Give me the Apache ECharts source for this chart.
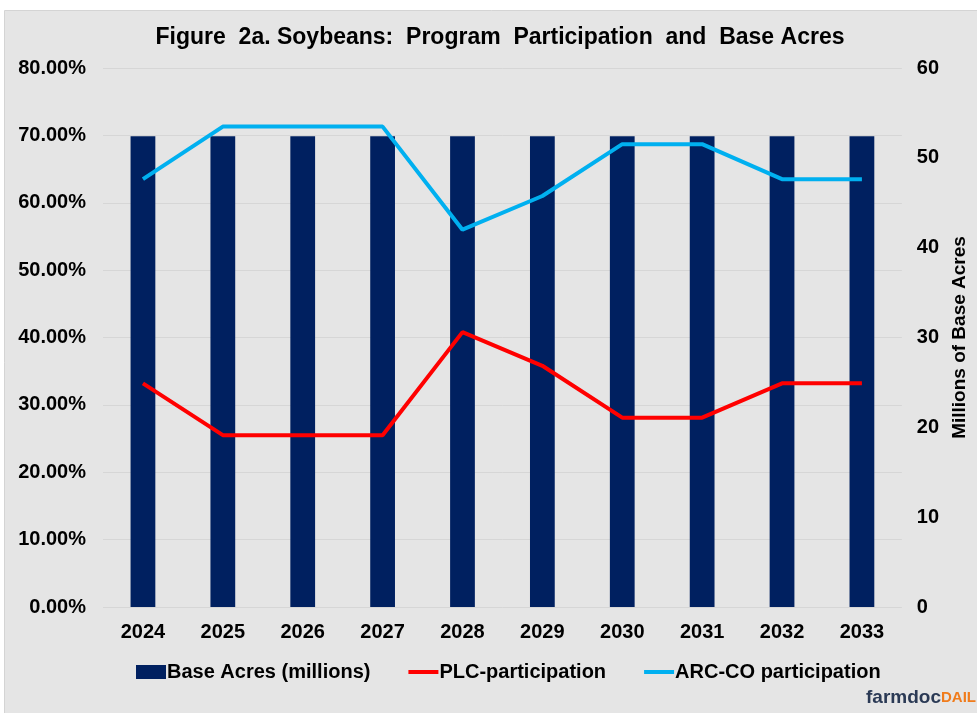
<!DOCTYPE html>
<html>
<head>
<meta charset="utf-8">
<script src="https://cdn.jsdelivr.net/npm/echarts@6/dist/echarts.min.js"></script>
<style>
  html, body { margin: 0; padding: 0; background: #fff; }
  #chart { width: 977px; height: 713px; }
</style>
</head>
<body>
<div id="chart"></div>
<script>
// data
var years = ['2024', '2025', '2026', '2027', '2028', '2029', '2030', '2031', '2032', '2033'];
var baseAcres = [52.4, 52.4, 52.4, 52.4, 52.4, 52.4, 52.4, 52.4, 52.4, 52.4];
var plcPart = [33.2, 25.5, 25.5, 25.5, 40.8, 35.8, 28.1, 28.1, 33.2, 33.2];
var arcPart = [63.5, 71.3, 71.3, 71.3, 56.0, 61.0, 68.7, 68.7, 63.5, 63.5];

var font = 'Liberation Sans, Arial, sans-serif';

var chart = echarts.init(document.getElementById('chart'));
var option = {
  backgroundColor: '#fff',
  animation: false,
  graphic: [
    {
      type: 'rect', z: -10,
      shape: { x: 4.5, y: 10.5, width: 980, height: 710 },
      style: { fill: '#e5e5e5', stroke: '#d4d4d4', lineWidth: 1 }
    },
    {
      type: 'text', left: 866, top: 688,
      style: {
        text: '{a|farmdoc}{b|DAIL}',
        rich: {
          a: { fontFamily: font, fontWeight: 'bold', fontSize: 19, fill: '#2b3a55' },
          b: { fontFamily: font, fontWeight: 'bold', fontSize: 15, fill: '#f07c1c' }
        }
      }
    }
  ],
  title: {
    text: 'Figure  2a. Soybeans:  Program  Participation  and  Base Acres',
    left: 495,
    textAlign: 'center',
    top: 21,
    textStyle: { fontFamily: font, fontWeight: 'bold', fontSize: 23, color: '#000' }
  },
  legend: {
    top: 657,
    left: 131,
    itemGap: 38,
    itemWidth: 30,
    itemHeight: 14,
    textStyle: { fontFamily: font, fontWeight: 'bold', fontSize: 20, color: '#000', padding: [0, 0, 0, -4] },
    data: [
      { name: 'Base Acres (millions)', icon: 'rect' },
      { name: 'PLC-participation', icon: 'path://M0,0 L30,0 L30,4 L0,4 Z' },
      { name: 'ARC-CO participation', icon: 'path://M0,0 L30,0 L30,4 L0,4 Z' }
    ]
  },
  grid: { left: 103, right: 73, top: 68, bottom: 106 },
  xAxis: {
    type: 'category',
    data: years,
    axisLine: { show: false },
    axisTick: { show: false },
    axisLabel: { fontFamily: font, fontWeight: 'bold', fontSize: 20, color: '#000', margin: 15 }
  },
  yAxis: [
    {
      type: 'value', min: 0, max: 80, interval: 10,
      axisLabel: {
        fontFamily: font, fontWeight: 'bold', fontSize: 20, color: '#000', margin: 17,
        formatter: function (v) { return v.toFixed(2) + '%'; }
      },
      splitLine: { lineStyle: { color: '#d6d6d6', width: 1 } },
      axisLine: { show: false }, axisTick: { show: false }
    },
    {
      type: 'value', min: 0, max: 60, interval: 10,
      name: 'Millions of Base Acres',
      nameLocation: 'middle',
      nameRotate: 90,
      nameGap: 44,
      nameTextStyle: { fontFamily: font, fontWeight: 'bold', fontSize: 19, color: '#000' },
      axisLabel: { fontFamily: font, fontWeight: 'bold', fontSize: 20, color: '#000', margin: 15 },
      splitLine: { show: false },
      axisLine: { show: false }, axisTick: { show: false }
    }
  ],
  series: [
    {
      name: 'Base Acres (millions)',
      type: 'bar',
      yAxisIndex: 1,
      data: baseAcres,
      barWidth: '31%',
      itemStyle: { color: '#002060' }
    },
    {
      name: 'PLC-participation',
      type: 'line',
      data: plcPart,
      symbol: 'none',
      lineStyle: { color: '#ff0000', width: 4 },
      itemStyle: { color: '#ff0000' }
    },
    {
      name: 'ARC-CO participation',
      type: 'line',
      data: arcPart,
      symbol: 'none',
      lineStyle: { color: '#00b0f0', width: 4 },
      itemStyle: { color: '#00b0f0' }
    }
  ]
};
chart.setOption(option);
</script>
</body>
</html>
